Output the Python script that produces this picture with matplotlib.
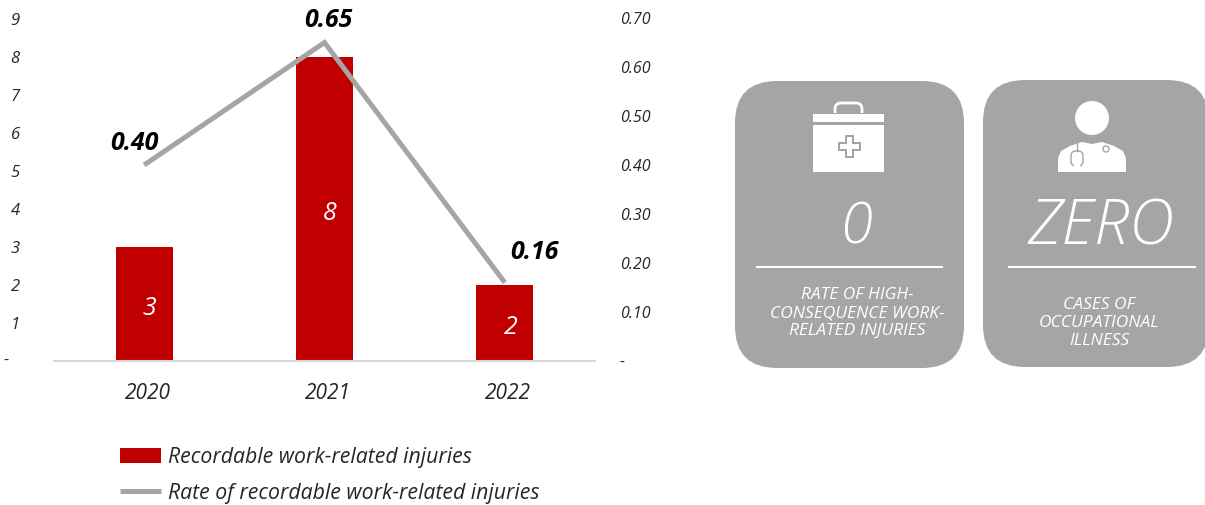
import matplotlib
matplotlib.use("Agg")
import matplotlib.pyplot as plt
from matplotlib.patches import FancyBboxPatch, Rectangle, Circle, Polygon
from matplotlib.transforms import ScaledTranslation

plt.rcParams['font.family'] = ['Open Sans', 'DejaVu Sans']
plt.rcParams['font.style'] = 'italic'

years = ['2020', '2021', '2022']
injuries = [3, 8, 2]
rates = [0.40, 0.65, 0.16]
left_ticks = [0, 1, 2, 3, 4, 5, 6, 7, 8, 9]
right_ticks = [0, 0.10, 0.20, 0.30, 0.40, 0.50, 0.60, 0.70]
rate_labels = ['0.40', '0.65', '0.16']
card_values = ['0', 'ZERO']
card_texts = ['RATE OF HIGH-\nCONSEQUENCE WORK-\nRELATED INJURIES', 'CASES OF\nOCCUPATIONAL\nILLNESS']
legend_labels = ['Recordable work-related injuries', 'Rate of recordable work-related injuries']

RED = '#C00000'
GREY = '#A5A5A5'
DARK = '#262626'

W, H = 1205, 505
fig = plt.figure(figsize=(W / 100, H / 100), dpi=100)

ax = fig.add_axes([54 / W, (H - 361) / H, 541 / W, 343 / H])
x = list(range(len(years)))
bars = ax.bar(x, injuries, width=0.315, color=RED, label=legend_labels[0])
ax.set_xlim(-0.5, 2.5)
ax.set_ylim(0, 343 / 38)
ax.set_xticks(x)
ax.set_xticklabels(years, fontsize=15, color=DARK)
ax.set_yticks(left_ticks)
ax.set_yticklabels([''] + [str(t) for t in left_ticks[1:]], fontsize=12, color=DARK, ha='center')
ax.tick_params(axis='x', length=0, pad=16)
ax.tick_params(axis='y', length=0, pad=28)
shift = ScaledTranslation(2.5 / 72, 0, fig.dpi_scale_trans)
for lab in ax.get_xticklabels():
    lab.set_transform(lab.get_transform() + shift)
for s in ['top', 'left', 'right']:
    ax.spines[s].set_visible(False)
ax.spines['bottom'].set_color('#D9D9D9')
ax.spines['bottom'].set_linewidth(1.5)
for i, v in enumerate(injuries):
    ax.annotate(str(v), (i, v / 2), xytext=(4, -3), textcoords='offset points', color='white',
                fontsize=18, ha='center', va='center')

ax2 = ax.twinx()
line, = ax2.plot(x, rates, color=GREY, lw=3.6, solid_capstyle='butt', solid_joinstyle='miter', label=legend_labels[1])
ax2.set_ylim(0, 0.70)
ax2.set_yticks(right_ticks)
ax2.set_yticklabels(['-'] + ['%.2f' % t for t in right_ticks[1:]], fontsize=11.5, color=DARK)
ax2.tick_params(axis='y', length=0, pad=18)
for s in ['top', 'left', 'right', 'bottom']:
    ax2.spines[s].set_visible(False)

offsets = [(-7, 15.5), (3, 15.5), (21, 22)]
for i, r in enumerate(rates):
    ax2.annotate(rate_labels[i], (x[i], r), xytext=offsets[i], textcoords='offset points',
                 fontsize=18, fontweight='bold', color='black', ha='center', va='center')

fig.legend([bars, line], legend_labels, loc='upper left', bbox_to_anchor=(120 / W, 1 - 447 / H),
           frameon=False, fontsize=15.3, labelcolor=DARK, handlelength=1.95, handletextpad=0.33,
           labelspacing=0.69, borderpad=0, borderaxespad=0)

# cards and icons, in pixel coords
ov = fig.add_axes([0, 0, 1, 1])
ov.set_xlim(0, W)
ov.set_ylim(H, 0)
ov.axis('off')

def card(x0, y0, x1, y1):
    r = 42
    ov.add_patch(FancyBboxPatch((x0 + r, y0 + r), x1 - x0 - 2 * r, y1 - y0 - 2 * r,
                                boxstyle='round,pad=%d,rounding_size=%d' % (r, r), fc=GREY, ec='none'))

card(735, 81, 964, 368)
card(983, 80, 1209, 367)

# first aid case
ov.add_patch(Rectangle((813, 125), 71, 47, fc='white', ec='none'))
ov.add_patch(Rectangle((813, 114), 71, 8, fc='white', ec='none'))
ov.add_patch(FancyBboxPatch((835, 103), 27, 15, boxstyle='round,pad=0,rounding_size=6', fc='none', ec='white', lw=2))
ov.add_patch(Rectangle((813, 113), 71, 1, fc=GREY, ec='none'))
ov.add_patch(Rectangle((845, 135), 9, 23, fc=GREY, ec='none'))
ov.add_patch(Rectangle((838, 142), 23, 9, fc=GREY, ec='none'))
ov.add_patch(Rectangle((847, 137), 5, 19, fc='white', ec='none'))
ov.add_patch(Rectangle((840, 144), 19, 5, fc='white', ec='none'))

# doctor
ov.add_patch(Circle((1092, 118), 17, fc='white', ec='none'))
ov.add_patch(Polygon([(1058, 172), (1058, 158), (1061, 151), (1070, 146), (1082, 142), (1092, 144),
                      (1102, 142), (1114, 146), (1123, 151), (1126, 158), (1126, 172)], fc='white', ec='none'))
ov.add_patch(FancyBboxPatch((1071, 151), 12, 15, boxstyle='round,pad=0,rounding_size=5', fc='none', ec=GREY, lw=1))
ov.add_patch(Rectangle((1074, 163), 6, 5, fc='white', ec='none'))
ov.plot([1077, 1077], [142, 151], color=GREY, lw=1)
ov.add_patch(Circle((1106, 149), 3, fc='none', ec=GREY, lw=1))

ov.text(856, 229, card_values[0], color='white', fontsize=42, ha='center', va='center', fontweight='light')
ov.text(1101, 228, card_values[1], color='white', fontsize=45, ha='center', va='center', fontweight='light')
ov.plot([757, 942], [267, 267], color='white', lw=1.5)
ov.plot([1009, 1195], [267, 267], color='white', lw=1.5)
ov.text(857, 313, card_texts[0], color='white', fontsize=12.5, ha='center', va='center', linespacing=1.18, fontweight='medium')
ov.text(1099, 323, card_texts[1], color='white', fontsize=12.5, ha='center', va='center', linespacing=1.18, fontweight='medium')

# the dash for zero on the left axis
ov.text(6, 361, '-', color=DARK, fontsize=12, ha='center', va='center')

fig.savefig('out.png', dpi=100)
